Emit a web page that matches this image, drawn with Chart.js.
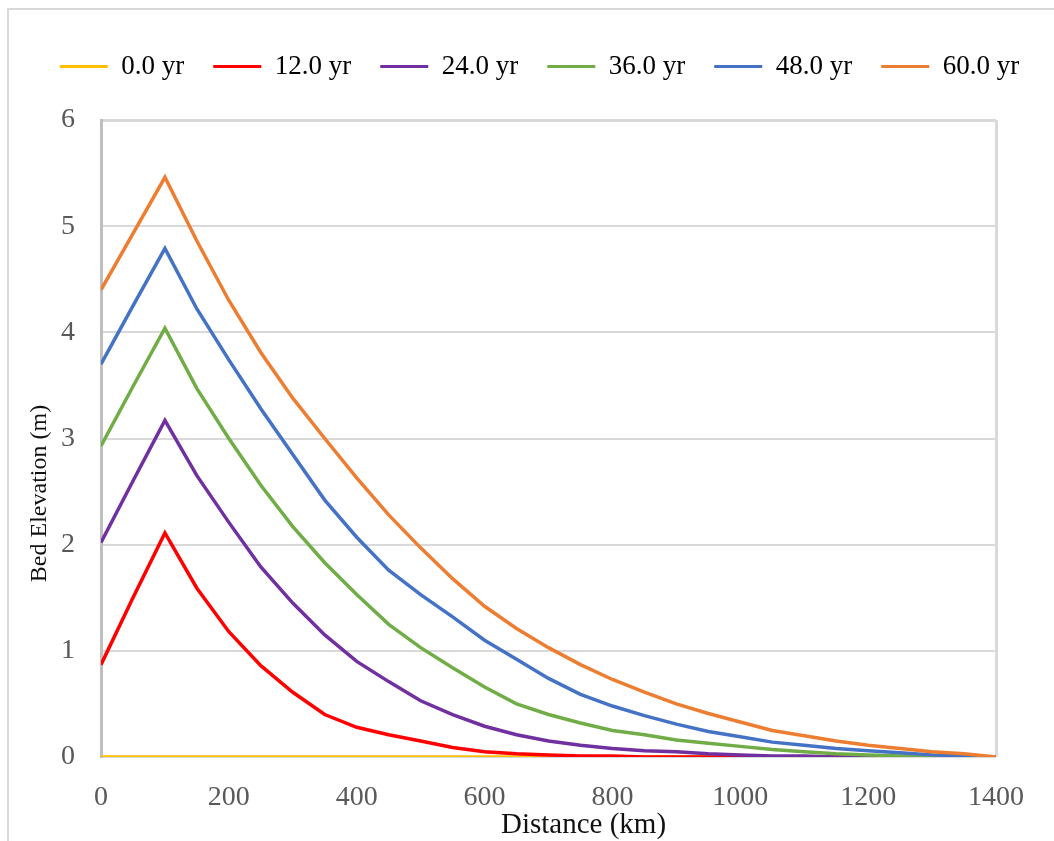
<!DOCTYPE html>
<html>
<head>
<meta charset="utf-8">
<script src="https://cdn.jsdelivr.net/npm/chart.js@4"></script>
<style>
  html, body { margin: 0; padding: 0; background: #fff; }
</style>
</head>
<body>
<canvas id="bedChart" width="1054" height="841"></canvas>
<script>
// Distance along the channel (km)
const distances = [0, 50, 100, 150, 200, 250, 300, 350, 400, 450, 500, 550, 600, 650, 700, 750, 800, 850, 900, 950, 1000, 1050, 1100, 1150, 1200, 1250, 1300, 1350, 1400]

// Bed elevation (m) for each time
const yr0 = [0, 0, 0, 0, 0, 0, 0, 0, 0, 0, 0, 0, 0, 0, 0, 0, 0, 0, 0, 0, 0, 0, 0, 0, 0, 0, 0, 0, 0]
const yr12 = [0.87, 1.50, 2.11, 1.59, 1.18, 0.86, 0.61, 0.40, 0.28, 0.21, 0.15, 0.09, 0.05, 0.03, 0.02, 0.01, 0.01, 0, 0, 0, 0, 0, 0, 0, 0, 0, 0, 0, 0]
const yr24 = [2.02, 2.60, 3.17, 2.65, 2.21, 1.79, 1.45, 1.15, 0.90, 0.71, 0.53, 0.40, 0.29, 0.21, 0.15, 0.11, 0.08, 0.06, 0.05, 0.03, 0.02, 0.01, 0.01, 0, 0, 0, 0, 0, 0]
const yr36 = [2.93, 3.49, 4.04, 3.47, 3.00, 2.56, 2.17, 1.83, 1.53, 1.25, 1.03, 0.84, 0.66, 0.50, 0.40, 0.32, 0.25, 0.21, 0.16, 0.13, 0.10, 0.07, 0.05, 0.03, 0.02, 0.01, 0.01, 0, 0]
const yr48 = [3.70, 4.25, 4.79, 4.22, 3.74, 3.28, 2.85, 2.42, 2.07, 1.76, 1.53, 1.32, 1.10, 0.92, 0.74, 0.59, 0.48, 0.39, 0.31, 0.24, 0.19, 0.14, 0.11, 0.08, 0.06, 0.04, 0.02, 0.01, 0]
const yr60 = [4.40, 4.93, 5.46, 4.86, 4.30, 3.81, 3.38, 3.00, 2.63, 2.28, 1.97, 1.68, 1.42, 1.21, 1.03, 0.87, 0.73, 0.61, 0.50, 0.41, 0.33, 0.25, 0.20, 0.15, 0.11, 0.08, 0.05, 0.03, 0]

const seriesLabels = ['0.0 yr', '12.0 yr', '24.0 yr', '36.0 yr', '48.0 yr', '60.0 yr']
const seriesValues = [yr0, yr12, yr24, yr36, yr48, yr60]
const seriesColors = ['#FFC000', '#FF0000', '#7030A0', '#70AD47', '#4472C4', '#ED7D31']

const xTitle = 'Distance (km)'
const yTitle = 'Bed Elevation (m)'

const fontFamily = "'Liberation Serif', 'Times New Roman', serif"
Chart.defaults.font.family = fontFamily

// outer frame (left and top edges of the picture)
const framePlugin = {
  id: 'frame',
  beforeDraw (chart) {
    const ctx = chart.ctx
    ctx.save()
    ctx.fillStyle = '#fff'
    ctx.fillRect(0, 0, chart.width, chart.height)
    ctx.strokeStyle = '#d9d9d9'
    ctx.lineWidth = 2
    ctx.beginPath()
    ctx.moveTo(8, chart.height)
    ctx.lineTo(8, 9)
    ctx.lineTo(chart.width, 9)
    ctx.stroke()
    ctx.restore()
  }
}

// one legend row, placed like the original, and plot top kept at the same place
const legendPlugin = {
  id: 'legendTweak',
  beforeInit (chart) {
    const legend = chart.legend
    const origFit = legend.fit
    legend.fit = function () {
      this.maxWidth = chart.width + 100
      origFit.call(this)
      this.height = 96
    }
    const origDraw = legend.draw
    legend.draw = function (area) {
      const left = this.left
      const right = this.right
      this.left = -21
      this.right = 1100
      origDraw.call(this, area)
      this.left = left
      this.right = right
    }
  }
}

// axis titles sit off-centre in the original
const axisTitlePlugin = {
  id: 'axisTitles',
  afterDraw (chart) {
    const { ctx, chartArea } = chart
    ctx.save()
    ctx.fillStyle = '#111'
    ctx.textAlign = 'center'
    ctx.textBaseline = 'middle'
    ctx.font = '29px ' + fontFamily
    ctx.fillText(xTitle, (chartArea.left + chartArea.right) / 2 + 35, 825)
    ctx.translate(40, (chartArea.top + chartArea.bottom) / 2 + 55)
    ctx.rotate(-Math.PI / 2)
    ctx.font = '24px ' + fontFamily
    ctx.fillText(yTitle, 0, 0)
    ctx.restore()
  }
}

const ctx = document.getElementById('bedChart').getContext('2d')

new Chart(ctx, {
  type: 'line',
  data: {
    datasets: seriesLabels.map((label, i) => ({
      label: label,
      data: distances.map((d, j) => ({ x: d, y: seriesValues[i][j] })),
      borderColor: seriesColors[i],
      backgroundColor: seriesColors[i],
      borderWidth: 3.5,
      pointRadius: 0,
      tension: 0,
      order: seriesLabels.length - i
    }))
  },
  options: {
    responsive: false,
    animation: false,
    layout: { padding: { left: 28, right: 58, top: 24, bottom: 0 } },
    plugins: {
      legend: {
        position: 'top',
        labels: {
          boxWidth: 48,
          boxHeight: 3,
          padding: 29,
          color: '#595959',
          font: { size: 27 },
          generateLabels: (chart) => chart.data.datasets.map((ds, i) => ({
            text: ds.label,
            fillStyle: ds.borderColor,
            strokeStyle: ds.borderColor,
            lineWidth: 0,
            hidden: false,
            datasetIndex: i
          }))
        }
      },
      tooltip: { enabled: false }
    },
    scales: {
      x: {
        type: 'linear',
        min: 0,
        max: 1400,
        ticks: {
          stepSize: 200,
          color: '#595959',
          font: { size: 28 },
          padding: 24,
          maxRotation: 0,
          callback: (v) => String(v)
        },
        grid: {
          drawTicks: false,
          lineWidth: 3,
          color: (c) => (c.tick && c.tick.value === 1400 ? '#d9d9d9' : 'rgba(0,0,0,0)')
        },
        border: { display: false },
        afterFit: (s) => { s.height = 84 }
      },
      y: {
        min: 0,
        max: 6,
        ticks: { stepSize: 1, color: '#595959', font: { size: 28 }, padding: 26 },
        grid: {
          drawTicks: false,
          color: '#d9d9d9',
          lineWidth: (c) => (c.tick && c.tick.value === 6 ? 3 : 2)
        },
        border: { color: '#bfbfbf', width: 3 },
        afterFit: (s) => { s.width = 73 }
      }
    }
  },
  plugins: [framePlugin, legendPlugin, axisTitlePlugin]
})
</script>
</body>
</html>
